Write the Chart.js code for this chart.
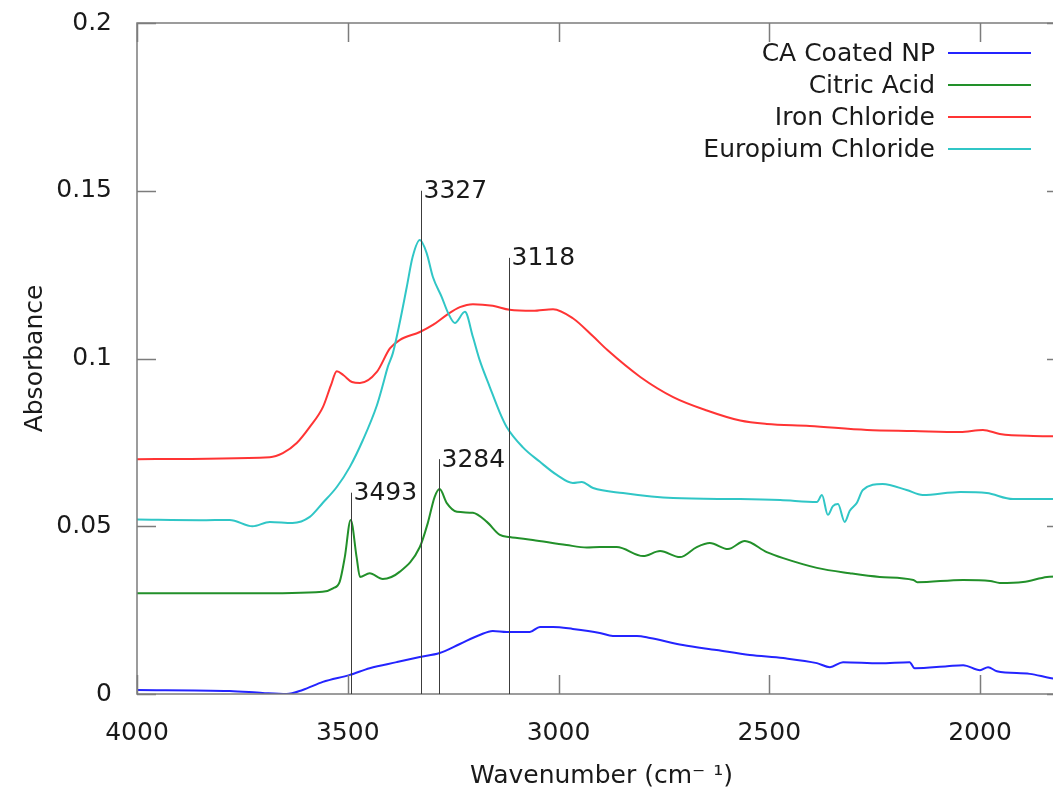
<!DOCTYPE html>
<html>
<head>
<meta charset="utf-8">
<title>FTIR spectra</title>
<script src="https://cdn.jsdelivr.net/npm/chart.js@4.4.1/dist/chart.umd.min.js"></script>
<style>
  html, body { margin: 0; padding: 0; background: #fff; overflow: hidden; width: 1053px; height: 797px; }
  canvas { display: block; }
</style>
</head>
<body>
<canvas id="spectra" width="1070" height="797"></canvas>
<script>
const FONT = '"DejaVu Sans", Verdana, sans-serif';
const TEXT_COLOR = '#1a1a1a';

// axis ticks
const xTicks = [4000, 3500, 3000, 2500, 2000];
const yTicks = [0, 0.05, 0.1, 0.15, 0.2];

// series names and colours
const seriesNames = ['CA Coated NP', 'Citric Acid', 'Iron Chloride', 'Europium Chloride'];
const seriesColors = ['#2424ff', '#22902a', '#ff3434', '#30c6c6'];

// CA coated nanoparticles
const coatedWn  = [4000, 3780, 3702, 3645, 3607, 3559, 3495, 3448, 3384, 3329, 3282, 3234, 3187, 3156, 3123, 3068, 3044, 3013, 2966, 2902, 2871, 2814, 2783, 2705, 2625, 2546, 2467, 2387, 2356, 2325, 2238, 2167, 2155, 2078, 2040, 2000, 1981, 1960, 1882, 1834, 1796];
const coatedAbs = [0.0012, 0.0009, 0.0003, 0.0000, 0.0012, 0.0036, 0.0057, 0.0077, 0.0095, 0.0110, 0.0122, 0.0149, 0.0176, 0.0188, 0.0185, 0.0185, 0.0200, 0.0200, 0.0194, 0.0182, 0.0173, 0.0173, 0.0167, 0.0146, 0.0131, 0.0116, 0.0107, 0.0092, 0.0080, 0.0095, 0.0092, 0.0095, 0.0077, 0.0083, 0.0086, 0.0071, 0.0080, 0.0068, 0.0060, 0.0048, 0.0042];

// citric acid
const citricWn  = [4000, 3733, 3560, 3535, 3519, 3507, 3493, 3479, 3471, 3448, 3417, 3377, 3329, 3310, 3294, 3282, 3265, 3241, 3203, 3170, 3139, 3116, 3061, 2981, 2933, 2902, 2862, 2799, 2759, 2712, 2672, 2641, 2598, 2558, 2506, 2467, 2387, 2309, 2238, 2158, 2149, 2040, 1976, 1953, 1898, 1841, 1796];
const citricAbs = [0.0300, 0.0300, 0.0305, 0.0315, 0.0335, 0.0408, 0.0519, 0.0408, 0.0349, 0.0360, 0.0343, 0.0364, 0.0438, 0.0510, 0.0587, 0.0611, 0.0569, 0.0543, 0.0540, 0.0513, 0.0474, 0.0468, 0.0459, 0.0444, 0.0437, 0.0438, 0.0438, 0.0411, 0.0426, 0.0408, 0.0438, 0.0450, 0.0432, 0.0456, 0.0423, 0.0405, 0.0376, 0.0360, 0.0349, 0.0340, 0.0333, 0.0340, 0.0337, 0.0331, 0.0334, 0.0349, 0.0352];

// iron chloride
const ironWn  = [4000, 3685, 3654, 3621, 3590, 3559, 3540, 3526, 3510, 3490, 3471, 3431, 3400, 3377, 3329, 3298, 3265, 3234, 3203, 3156, 3116, 3061, 3013, 2966, 2918, 2884, 2806, 2728, 2648, 2569, 2506, 2404, 2268, 2158, 2047, 1993, 1953, 1874, 1796];
const ironAbs = [0.0700, 0.0706, 0.0718, 0.0748, 0.0796, 0.0855, 0.0920, 0.0962, 0.0950, 0.0930, 0.0927, 0.0960, 0.1030, 0.1055, 0.1079, 0.1100, 0.1130, 0.1153, 0.1162, 0.1157, 0.1145, 0.1142, 0.1147, 0.1120, 0.1066, 0.1025, 0.0945, 0.0885, 0.0845, 0.0815, 0.0805, 0.0799, 0.0787, 0.0784, 0.0781, 0.0787, 0.0775, 0.0769, 0.0768];

// europium chloride
const europiumWn  = [4000, 3850, 3780, 3726, 3685, 3631, 3590, 3559, 3526, 3495, 3464, 3431, 3417, 3405, 3393, 3377, 3360, 3346, 3329, 3313, 3298, 3277, 3262, 3246, 3222, 3203, 3187, 3163, 3139, 3123, 3085, 3044, 3004, 2966, 2945, 2918, 2847, 2728, 2569, 2474, 2387, 2375, 2361, 2349, 2337, 2321, 2309, 2292, 2278, 2231, 2174, 2136, 2047, 1984, 1922, 1796];
const europiumAbs = [0.0520, 0.0518, 0.0519, 0.0500, 0.0513, 0.0510, 0.0528, 0.0570, 0.0617, 0.0677, 0.0757, 0.0860, 0.0920, 0.0975, 0.1016, 0.1105, 0.1213, 0.1303, 0.1353, 0.1315, 0.1243, 0.1183, 0.1136, 0.1106, 0.1139, 0.1064, 0.0995, 0.0915, 0.0838, 0.0796, 0.0736, 0.0692, 0.0653, 0.0629, 0.0632, 0.0614, 0.0599, 0.0584, 0.0581, 0.0578, 0.0572, 0.0593, 0.0534, 0.0560, 0.0566, 0.0513, 0.0546, 0.0570, 0.0608, 0.0626, 0.0608, 0.0593, 0.0602, 0.0599, 0.0581, 0.0581];

// marked peaks: wavenumber and height of the marker line
const peakWn  = [3493, 3327, 3284, 3118];
const peakTop = [0.06, 0.15, 0.07, 0.13];

const toPoints = (xs, ys) => xs.map((x, i) => ({ x: x, y: ys[i] }));
const seriesData = [
  toPoints(coatedWn, coatedAbs),
  toPoints(citricWn, citricAbs),
  toPoints(ironWn, ironAbs),
  toPoints(europiumWn, europiumAbs)
];

// plot frame with inward tick marks on all four sides
const framePlugin = {
  id: 'frame',
  afterDatasetsDraw(chart) {
    const { ctx, chartArea: a, scales: { x, y } } = chart;
    const len = 19;
    ctx.save();
    ctx.strokeStyle = '#7c7c7c';
    ctx.lineWidth = 1.5;
    ctx.strokeRect(a.left, a.top, a.right - a.left, a.bottom - a.top);
    ctx.beginPath();
    xTicks.forEach(v => {
      const px = Math.round(x.getPixelForValue(v)) + 0.5;
      ctx.moveTo(px, a.bottom); ctx.lineTo(px, a.bottom - len);
      ctx.moveTo(px, a.top);    ctx.lineTo(px, a.top + len);
    });
    yTicks.forEach(v => {
      const py = Math.round(y.getPixelForValue(v)) + 0.5;
      ctx.moveTo(a.left, py);  ctx.lineTo(a.left + len, py);
      ctx.moveTo(a.right, py); ctx.lineTo(a.right - len, py);
    });
    ctx.stroke();
    ctx.restore();
  }
};

// vertical peak markers with their wavenumber labels
const peakPlugin = {
  id: 'peaks',
  afterDatasetsDraw(chart) {
    const { ctx, scales: { x, y } } = chart;
    ctx.save();
    ctx.strokeStyle = '#3c3c3c';
    ctx.lineWidth = 1;
    ctx.fillStyle = TEXT_COLOR;
    ctx.font = '25px ' + FONT;
    ctx.textAlign = 'left';
    ctx.textBaseline = 'middle';
    peakWn.forEach((wn, i) => {
      const px = Math.round(x.getPixelForValue(wn)) + 0.5;
      const y0 = y.getPixelForValue(0);
      const y1 = y.getPixelForValue(peakTop[i]);
      ctx.beginPath();
      ctx.moveTo(px, y0);
      ctx.lineTo(px, y1);
      ctx.stroke();
      ctx.fillText(String(wn), px + 2, y1 + 1);
    });
    ctx.restore();
  }
};

// key in the upper right: right-aligned names followed by a line sample
const keyPlugin = {
  id: 'key',
  afterDraw(chart) {
    const { ctx } = chart;
    ctx.save();
    ctx.font = '25px ' + FONT;
    ctx.textAlign = 'right';
    ctx.textBaseline = 'middle';
    chart.data.datasets.forEach((ds, i) => {
      const yy = 53 + i * 32;
      ctx.fillStyle = TEXT_COLOR;
      ctx.fillText(ds.label, 935, yy + 1);
      ctx.strokeStyle = ds.borderColor;
      ctx.lineWidth = 2;
      ctx.beginPath();
      ctx.moveTo(948, yy);
      ctx.lineTo(1031, yy);
      ctx.stroke();
    });
    ctx.restore();
  }
};

new Chart(document.getElementById('spectra'), {
  type: 'line',
  data: {
    datasets: seriesData.map((pts, i) => ({
      label: seriesNames[i],
      data: pts,
      borderColor: seriesColors[i],
      backgroundColor: seriesColors[i],
      borderWidth: 2,
      pointRadius: 0,
      fill: false,
      cubicInterpolationMode: 'monotone',
      order: seriesNames.length - i
    }))
  },
  options: {
    responsive: false,
    animation: false,
    layout: { padding: { top: 23, right: 4, left: 0, bottom: 0 } },
    plugins: { legend: { display: false }, tooltip: { enabled: false } },
    scales: {
      x: {
        type: 'linear',
        reverse: true,
        min: 1796,
        max: 4000,
        afterBuildTicks: s => { s.ticks = xTicks.map(v => ({ value: v })); },
        afterFit: s => { s.height = 103; s.paddingLeft = 0; s.paddingRight = 0; },
        grid: { display: false },
        border: { display: false },
        ticks: {
          font: { family: FONT, size: 25 },
          color: TEXT_COLOR,
          padding: 16,
          maxRotation: 0,
          autoSkip: false,
          callback: v => String(v)
        },
        title: {
          display: true,
          text: 'Wavenumber (cm\u207B \u00B9)',
          font: { family: FONT, size: 25 },
          color: TEXT_COLOR,
          padding: { top: 0, bottom: 6 }
        }
      },
      y: {
        type: 'linear',
        min: 0,
        max: 0.2,
        afterBuildTicks: s => { s.ticks = yTicks.map(v => ({ value: v })); },
        afterFit: s => { s.width = 137; s.paddingTop = 0; s.paddingBottom = 0; },
        grid: { display: false },
        border: { display: false },
        ticks: {
          font: { family: FONT, size: 25 },
          color: TEXT_COLOR,
          padding: 17,
          callback: v => String(v)
        },
        title: {
          display: true,
          text: 'Absorbance',
          font: { family: FONT, size: 25 },
          color: TEXT_COLOR,
          padding: { top: 20, bottom: 0 }
        }
      }
    }
  },
  plugins: [framePlugin, peakPlugin, keyPlugin]
});
</script>
</body>
</html>
